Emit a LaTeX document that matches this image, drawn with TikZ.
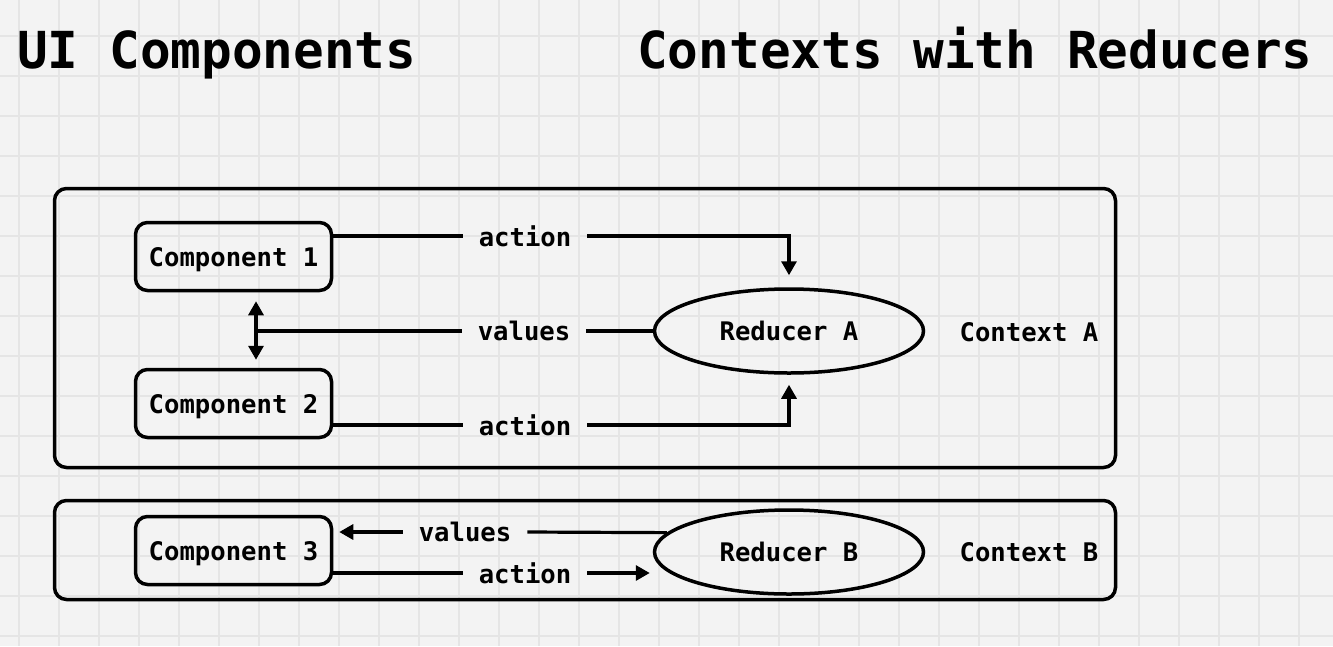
\documentclass[tikz,border=0pt]{standalone}
\usepackage{fontspec}
\setmainfont{DejaVu Sans Mono}
\usetikzlibrary{arrows.meta,shapes.geometric}
\definecolor{bg}{HTML}{F3F3F3}
\definecolor{gridc}{HTML}{E5E5E5}
\begin{document}
\begin{tikzpicture}[x=1pt,y=-1pt,
  small/.style={font=\fontsize{25.6}{30}\selectfont\bfseries},
  comp/.style={small,draw,line width=3.5pt,rounded corners=12pt,minimum width=196pt,minimum height=68pt,inner sep=0pt,text height=19pt,text depth=0pt},
  ctx/.style={draw,line width=3.5pt,rounded corners=12pt,inner sep=0pt},
  red/.style={small,draw,ellipse,line width=3.5pt,minimum width=269pt,minimum height=84pt,inner sep=0pt,text height=19pt,text depth=0pt},
  lbl/.style={small,inner xsep=16pt,inner ysep=0pt},
  conn/.style={line width=3.2pt},
  tip/.style={-{Triangle[length=14pt,width=15pt]}},
  title/.style={font=\fontsize{51}{60}\selectfont\bfseries,anchor=base west,inner sep=0pt}]
\useasboundingbox (0,0) rectangle (1333,646);
\fill[bg] (0,0) rectangle (1333,646);
\foreach \x in {19,59,...,1339} \draw[gridc,line width=1.5pt] (\x,0) -- (\x,646);
\foreach \y in {36,76,...,636} \draw[gridc,line width=1.5pt] (0,\y) -- (1333,\y);

\node[title] (t1) at (17,68) {UI Components};
\node[title] (t2) at (637,68) {Contexts with Reducers};

\node[ctx,minimum width=1061pt,minimum height=279pt] (ctxA) at (585,328) {};
\node[ctx,minimum width=1061pt,minimum height=99pt] (ctxB) at (585,550) {};

\node[comp] (c1) at (233.5,256.5) {Component 1};
\node[comp] (c2) at (233.5,403.5) {Component 2};
\node[comp] (c3) at (233.5,550.5) {Component 3};

\node[red] (ra) at (789,331) {Reducer A};
\node[red] (rb) at (789,552) {Reducer B};

\node[small,text height=19pt,text depth=0pt] (la) at (1029,332) {Context A};
\node[small,text height=19pt,text depth=0pt] (lb) at (1029,552) {Context B};

% Context A connectors
\node[lbl] (a1) at (525,236) {action};
\draw[conn] (c1.east |- a1) -- (a1.west);
\draw[conn,tip,shorten >=12pt] (a1.east) -| (ra.north);

\node[lbl] (vA) at (524,331) {values};
\coordinate (j) at (256,331);
\draw[conn] (ra.west) -- (vA.east);
\draw[conn] (vA.west) -- (j);
\draw[conn,{Triangle[length=14pt,width=15pt]}-{Triangle[length=14pt,width=15pt]},shorten <=9pt,shorten >=8pt] (j |- c1.south) -- (j |- c2.north);

\node[lbl] (a2) at (525,425) {action};
\draw[conn] (c2.east |- a2) -- (a2.west);
\draw[conn,tip,shorten >=10pt] (a2.east) -| (ra.south);

% Context B connectors
\node[lbl] (vB) at (465,532) {values};
\draw[conn] (rb.171) -- (vB.east);
\draw[conn,tip,shorten >=6pt] (vB.west) -- (c3.east |- vB);

\node[lbl] (aB) at (525,573) {action};
\draw[conn] (c3.east |- aB) -- (aB.west);
\draw[conn,tip,shorten >=3pt] (aB.east) -- (rb.west |- aB);
\end{tikzpicture}
\end{document}
